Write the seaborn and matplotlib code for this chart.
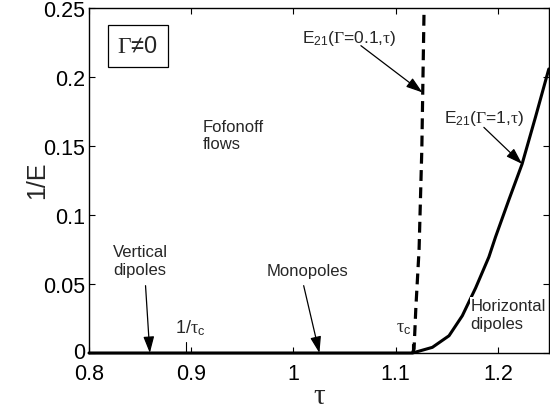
import matplotlib
matplotlib.use("Agg")
import matplotlib.pyplot as plt
import matplotlib.transforms as mtransforms
import seaborn as sns
import pandas as pd

# Data
tau_g1 = [0.80, 1.1165, 1.1359, 1.1522, 1.1652, 1.1782, 1.1912, 1.1977, 1.2107,
          1.2237, 1.2368, 1.2498]
inv_e_g1 = [0.0, 0.0, 0.0041, 0.0125, 0.027, 0.0471, 0.0696, 0.0841, 0.1109,
            0.1370, 0.1710, 0.2058]
tau_g01 = [1.1165, 1.1180, 1.1197, 1.1229, 1.1256, 1.1265, 1.1278]
inv_e_g01 = [0.0, 0.003, 0.032, 0.075, 0.148, 0.190, 0.250]
xticks = [0.8, 0.9, 1.0, 1.1, 1.2]
xticklabels = ["0.8", "0.9", "1", "1.1", "1.2"]
yticks = [0, 0.05, 0.1, 0.15, 0.2, 0.25]
yticklabels = ["0", "0.05", "0.1", "0.15", "0.2", "0.25"]
tau_c = 1.1155
inv_tau_c = 0.8953

sns.set_theme(style="ticks")
plt.rcParams["font.family"] = ["Liberation Sans", "DejaVu Sans"]
plt.rcParams["mathtext.fontset"] = "custom"
plt.rcParams["mathtext.rm"] = "Liberation Serif"
plt.rcParams["mathtext.it"] = "Liberation Serif"
plt.rcParams["mathtext.sf"] = "Liberation Sans"
plt.rcParams["mathtext.bf"] = "Liberation Sans:bold"

df1 = pd.DataFrame({"tau": tau_g1, "invE": inv_e_g1})
df2 = pd.DataFrame({"tau": tau_g01, "invE": inv_e_g01})

fig = plt.figure(figsize=(5.5, 4.14), dpi=100)
ax = fig.add_axes([89/550, 1-354/414, 460/550, 345/414])

sns.lineplot(data=df1, x="tau", y="invE", ax=ax, color="black", linewidth=2.2,
             estimator=None, sort=False, clip_on=False)
sns.lineplot(data=df2, x="tau", y="invE", ax=ax, color="black", linewidth=2.3,
             estimator=None, sort=False, linestyle=(0, (3.4, 2.0)))

ax.set_xlim(0.8, 1.25)
ax.set_ylim(0, 0.25)
ax.set_xticks(xticks)
ax.set_xticklabels(xticklabels)
ax.set_yticks(yticks)
ax.set_yticklabels(yticklabels)
ax.tick_params(direction="in", length=4, width=0.8, labelsize=15.5, colors="black",
               top=True, right=True)
ax.tick_params(axis="x", pad=7.5)
ax.tick_params(axis="y", pad=3)
for s in ax.spines.values():
    s.set_visible(True)
    s.set_linewidth(1.0)
    s.set_color("black")
# lift the "0" y label a hair so it does not collide with "0.8"
lbl0 = ax.get_yticklabels()[0]
lbl0.set_transform(lbl0.get_transform() +
                   mtransforms.ScaledTranslation(0, 3/100, fig.dpi_scale_trans))

ax.set_xlabel(r"$\tau$", fontsize=21, va="center")
ax.xaxis.set_label_coords((320-89)/460, (354-396)/345)
ax.set_ylabel("1/E", fontsize=18, va="center")
ax.yaxis.set_label_coords((37-89)/460, (354-180)/345)

# Annotations
ax.text(0.8478, 0.2225, r"$\Gamma$≠0", fontsize=17, ha="center", va="center",
        bbox=dict(boxstyle="square,pad=0.42", fc="white", ec="black", lw=0.9))
ax.text(0.911, 0.158, "Fofonoff\nflows", fontsize=12, ha="left", va="center", linespacing=1.2)

arrow = dict(arrowstyle="-|>,head_length=1.0,head_width=0.33", color="black", lw=0.9,
             shrinkA=0, shrinkB=0, mutation_scale=10)

ax.text(1.0085, 0.2285, r"E$_{\mathsf{21}}$($\Gamma$=0.1,$\tau$)", fontsize=12.5,
        ha="left", va="center")
ax.annotate("", xy=(1.1262, 0.1888), xytext=(1.066, 0.2227), arrowprops=arrow)
ax.text(1.1472, 0.1705, r"E$_{\mathsf{21}}$($\Gamma$=1,$\tau$)", fontsize=12.5,
        ha="left", va="center")
ax.annotate("", xy=(1.2237, 0.1370), xytext=(1.1863, 0.1635), arrowprops=arrow)

ax.text(0.8237, 0.067, "Vertical\ndipoles", fontsize=12, ha="left", va="center", linespacing=1.2)
ax.annotate("", xy=(0.8595, 0.0), xytext=(0.8553, 0.0488), arrowprops=arrow)
ax.text(0.8846, 0.0185, r"1/$\tau_{\mathsf{c}}$", fontsize=13, ha="left", va="center")
ax.plot([inv_tau_c, inv_tau_c], [0.0, 0.0078], color="black", lw=0.8)

ax.text(0.9733, 0.0598, "Monopoles", fontsize=12, ha="left", va="center")
ax.annotate("", xy=(1.0254, 0.0), xytext=(1.0100, 0.0488), arrowprops=arrow)

ax.text(1.1, 0.0185, r"$\tau_{\mathsf{c}}$", fontsize=13, ha="left", va="center")
ax.plot([tau_c, tau_c], [0.0, 0.0065], color="black", lw=0.8)
ax.text(1.1733, 0.0279, "Horizontal\ndipoles", fontsize=12, ha="left", va="center",
        linespacing=1.2, bbox=dict(boxstyle="square,pad=0.05", fc="white", ec="none"))

fig.savefig("out.png", dpi=100, facecolor="white")
